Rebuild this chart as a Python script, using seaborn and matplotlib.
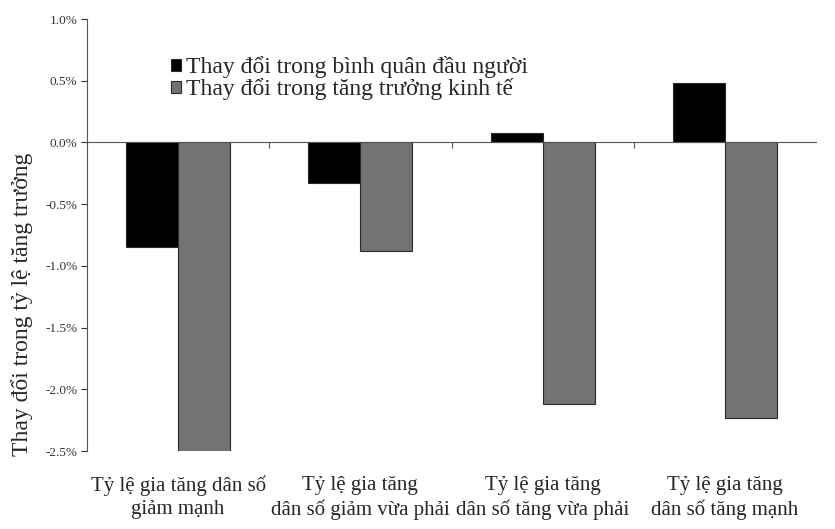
import pandas as pd
import matplotlib
matplotlib.use("Agg")
import matplotlib.pyplot as plt
import seaborn as sns
from matplotlib.ticker import FuncFormatter, FixedLocator

# Du lieu doc tu bieu do (don vi: %)
nhom = ["Tỷ lệ gia tăng dân số\ngiảm mạnh",
        "Tỷ lệ gia tăng\ndân số giảm vừa phải",
        "Tỷ lệ gia tăng\ndân số tăng vừa phải",
        "Tỷ lệ gia tăng\ndân số tăng mạnh"]
binh_quan = [-0.85, -0.33, 0.08, 0.48]
tang_truong = [-2.50, -0.88, -2.12, -2.23]
ten_chuoi = ["Thay đổi trong bình quân đầu người", "Thay đổi trong tăng trưởng kinh tế"]
y_ticks = [1.0, 0.5, 0.0, -0.5, -1.0, -1.5, -2.0, -2.5]

sns.set_style("ticks")
plt.rcParams["font.family"] = ["Liberation Serif", "DejaVu Serif"]

df = pd.DataFrame({
    "Nhom": nhom * 2,
    "GiaTri": binh_quan + tang_truong,
    "Chuoi": [ten_chuoi[0]] * 4 + [ten_chuoi[1]] * 4,
})

fig = plt.figure(figsize=(8.35, 5.29), dpi=100)
ax = fig.add_axes([87 / 835, 1 - 451 / 529, (816 - 87) / 835, (451 - 19) / 529])

sns.barplot(data=df, x="Nhom", y="GiaTri", hue="Chuoi", order=nhom,
            hue_order=ten_chuoi, palette=["#000000", "#737373"],
            width=0.57, errorbar=None, edgecolor="#2a2a2a", linewidth=0.8, ax=ax)

ax.set_xlim(-0.5, 3.5)
ax.set_ylim(-2.5, 1.0)
ax.yaxis.set_major_locator(FixedLocator(y_ticks))
ax.yaxis.set_major_formatter(FuncFormatter(lambda v, _: f"{v:.1f}%"))
ax.tick_params(axis="y", labelsize=9.5, length=4, width=0.8, direction="out", pad=3,
               colors="#333333")

# truc hoanh nam tai 0
ax.spines["bottom"].set_position(("data", 0))
ax.spines["bottom"].set_color("#555555")
ax.spines["left"].set_color("#555555")
sns.despine(ax=ax, top=True, right=True)
ax.tick_params(axis="x", which="major", length=0, pad=240, labelsize=15)
ax.xaxis.set_minor_locator(FixedLocator([0.5, 1.5, 2.5]))
ax.tick_params(axis="x", which="minor", length=4, width=0.8, color="#555555")
for lbl in ax.get_xticklabels():
    lbl.set_verticalalignment("top")
    lbl.set_linespacing(1.3)

ax.set_xlabel("")
ax.set_ylabel("Thay đổi trong tỷ lệ tăng trưởng", fontsize=17)
ax.yaxis.set_label_coords(-54 / 729, (451 - 304) / 432)

ax.legend(loc="upper left", bbox_to_anchor=(162 / 835, 1 - 47 / 529),
          bbox_transform=fig.transFigure, frameon=False, fontsize=17,
          handlelength=0.42, handleheight=0.42, handletextpad=0.2,
          labelspacing=0.0, borderaxespad=0)

fig.savefig("out.png", dpi=100)
